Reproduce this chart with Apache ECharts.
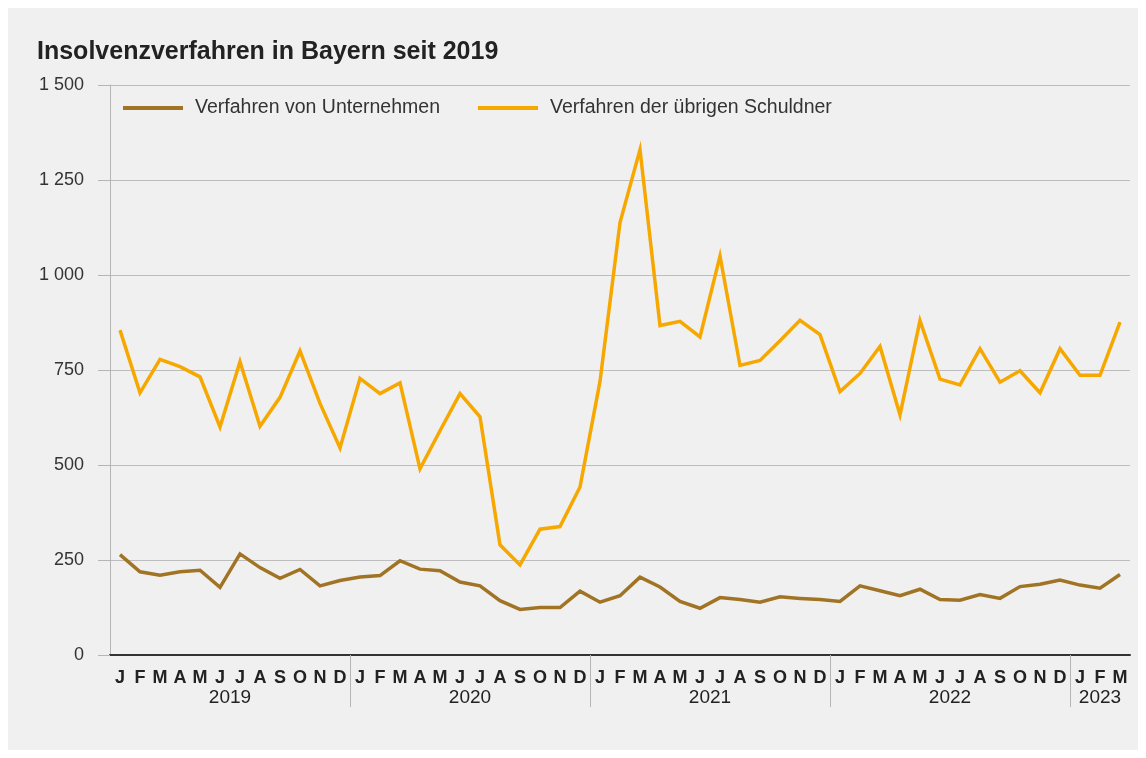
<!DOCTYPE html>
<html>
<head>
<meta charset="utf-8">
<script src="https://cdn.jsdelivr.net/npm/echarts@6/dist/echarts.min.js"></script>
<style>
  html, body { margin: 0; padding: 0; background: #ffffff; }
  #panel { position: absolute; left: 8px; top: 8px; width: 1130px; height: 742px; background: #f0f0f0; }
  #chart { position: absolute; left: 0; top: 0; width: 1146px; height: 758px; }
</style>
</head>
<body>
<div id="panel"></div>
<div id="chart"></div>
<script>
// ---- data ----
const titleText = 'Insolvenzverfahren in Bayern seit 2019';
const seriesNames = ['Verfahren von Unternehmen', 'Verfahren der übrigen Schuldner'];
const monthLetters = ['J','F','M','A','M','J','J','A','S','O','N','D'];
const years = ['2019', '2020', '2021', '2022', '2023'];
const monthsPerYear = [12, 12, 12, 12, 3];

const unternehmen = [
  264, 219, 210, 219, 223, 178, 266, 230, 202, 225, 182, 196,
  205, 209, 248, 226, 222, 192, 182, 143, 120, 125, 125, 168,
  139, 156, 205, 179, 141, 123, 151, 146, 139, 153, 149, 146,
  141, 182, 169, 156, 173, 146, 144, 159, 149, 180, 186, 197,
  184, 176, 212
];
const uebrige = [
  855, 690, 778, 759, 732, 600, 772, 602, 678, 800, 662, 545,
  728, 688, 716, 490, 590, 688, 627, 290, 237, 331, 338, 442,
  720, 1138, 1330, 867, 878, 837, 1050, 762, 775, 827, 881, 843,
  693, 741, 812, 632, 880, 726, 711, 806, 718, 748, 690, 806,
  736, 736, 876
];
const yTicks = { min: 0, max: 1500, interval: 250 };

// ---- derived categories ----
const monthCats = [];
const yearBounds = [];   // month index where each year after the first starts
const yearMids = [];     // month position of each year's centre
let cursor = 0;
years.forEach((y, yi) => {
  const n = monthsPerYear[yi];
  for (let m = 0; m < n; m++) monthCats.push(monthLetters[m]);
  if (yi > 0) yearBounds.push(cursor);
  yearMids.push(cursor + n / 2);
  cursor += n;
});
const totalMonths = cursor;

const FONT = 'Liberation Sans, Arial, Helvetica, sans-serif';
const chart = echarts.init(document.getElementById('chart'), null, { renderer: 'canvas' });

chart.setOption({
  backgroundColor: 'transparent',
  animation: false,
  title: {
    text: titleText,
    left: 32,
    top: 35,
    textStyle: { fontFamily: FONT, fontSize: 25, fontWeight: 'bold', color: '#222222' }
  },
  legend: {
    left: 118,
    top: 93,
    icon: 'rect',
    itemWidth: 60,
    itemHeight: 4,
    itemGap: 38,
    data: seriesNames,
    textStyle: { fontFamily: FONT, fontSize: 19.5, color: '#333333', padding: [0, 0, 0, 7] }
  },
  grid: { left: 110, right: 16, top: 85, bottom: 103, outerBoundsMode: 'none' },
  xAxis: [
    {
      type: 'category',
      data: monthCats,
      boundaryGap: true,
      axisLine: { show: true, lineStyle: { color: '#333333', width: 2 } },
      axisTick: { show: false },
      axisLabel: {
        interval: 0, margin: 14,
        fontFamily: FONT, fontSize: 18, fontWeight: 'bold', color: '#222222'
      },
      splitLine: { show: false }
    },
    {
      type: 'value',
      min: 0,
      max: totalMonths,
      position: 'bottom',
      axisLine: { show: false },
      axisTick: {
        show: true,
        length: 52,
        customValues: yearBounds,
        lineStyle: { color: '#b5b5b5', width: 1 }
      },
      axisLabel: {
        margin: 33,
        customValues: yearMids,
        formatter: (value) => {
          const i = yearMids.indexOf(value);
          return i >= 0 ? years[i] : '';
        },
        fontFamily: FONT, fontSize: 19, color: '#222222'
      },
      splitLine: { show: false }
    }
  ],
  yAxis: {
    type: 'value',
    min: yTicks.min,
    max: yTicks.max,
    interval: yTicks.interval,
    axisLine: { show: true, lineStyle: { color: '#b5b5b5', width: 1 } },
    axisTick: { show: true, length: 12, lineStyle: { color: '#b5b5b5', width: 1 } },
    axisLabel: {
      margin: 26,
      fontFamily: FONT, fontSize: 18, color: '#333333',
      formatter: (v) => String(v).replace(/\B(?=(\d{3})+(?!\d))/g, ' ')
    },
    splitLine: { show: true, lineStyle: { color: '#bdbdbd', width: 1.2 } }
  },
  series: [
    {
      name: seriesNames[0],
      type: 'line',
      xAxisIndex: 0,
      data: unternehmen,
      symbol: 'none',
      itemStyle: { color: '#a07424' },
      lineStyle: { color: '#a07424', width: 3.5, join: 'miter', miterLimit: 6 },
      z: 3
    },
    {
      name: seriesNames[1],
      type: 'line',
      xAxisIndex: 0,
      data: uebrige,
      symbol: 'none',
      itemStyle: { color: '#f6a800' },
      lineStyle: { color: '#f6a800', width: 3.5, join: 'miter', miterLimit: 6 },
      z: 2
    }
  ]
});
</script>
</body>
</html>
